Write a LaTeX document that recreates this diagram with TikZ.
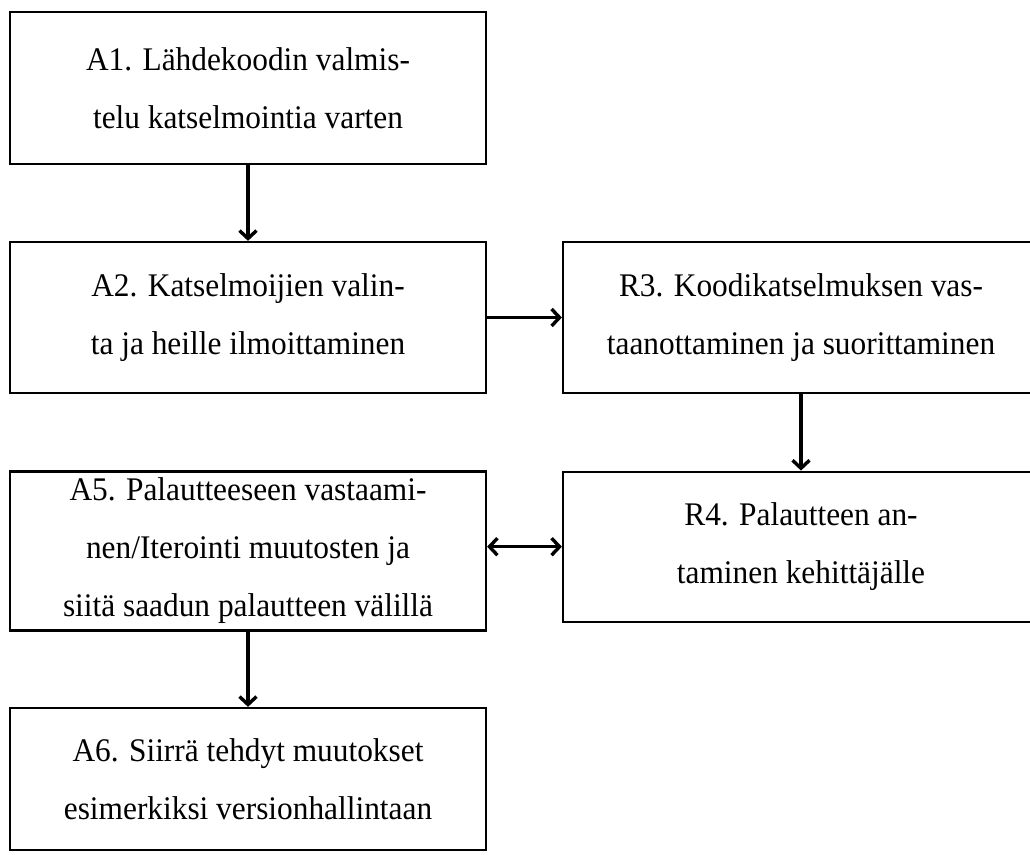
\documentclass[tikz,border=0pt]{standalone}
\usepackage{fontspec}
\setmainfont[FakeStretch=0.95]{Liberation Serif}
\tikzset{
every picture/.style={
line width=1pt
}}
\usetikzlibrary{arrows.meta}

\begin{document}
\begin{tikzpicture}[x=0.5pt, y=-0.5pt,
block/.style = {rectangle, draw=black, line width=1.1pt, align=center, minimum width=238pt, inner sep=0pt, font=\fontsize{16.5}{29}\selectfont},
flow/.style = {-{Straight Barb[length=4pt,width=8.5pt]}, line width=1.7pt},
bothflow/.style = {{Straight Barb[length=4pt,width=8.5pt]}-{Straight Barb[length=4pt,width=8.5pt]}, line width=1.7pt}]

\useasboundingbox (0,0) rectangle (1030,855);

\node [block, minimum height=76pt] at (248,88) (a1) {A1. Lähdekoodin valmis-\\telu katselmointia varten};
\node [block, minimum height=75.5pt] at (248,317.5) (a2) {A2. Katselmoijien valin-\\ta ja heille ilmoittaminen};
\node [block, minimum height=75.5pt] at (801,317.5) (r3) {R3. Koodikatselmuksen vas-\\taanottaminen ja suorittaminen};
\node [block, minimum height=75pt] at (801,546.7) (r4) {R4. Palautteen an-\\taminen kehittäjälle};
\node [block, minimum height=79.5pt] at (248,551) (a5) {A5. Palautteeseen vastaami-\\nen/Iterointi muutosten ja\\siitä saadun palautteen välillä};
\node [block, minimum height=71pt] at (248,779) (a6) {A6. Siirrä tehdyt muutokset\\esimerkiksi versionhallintaan};

\draw[flow] (a1) -- (a2);
\draw[flow] (a2) -- (r3);
\draw[flow] (r3) -- (r4);
\draw[bothflow] (a5.east |- r4.west) -- (r4.west);
\draw[flow] (a5) -- (a6);

\end{tikzpicture}
\end{document}
